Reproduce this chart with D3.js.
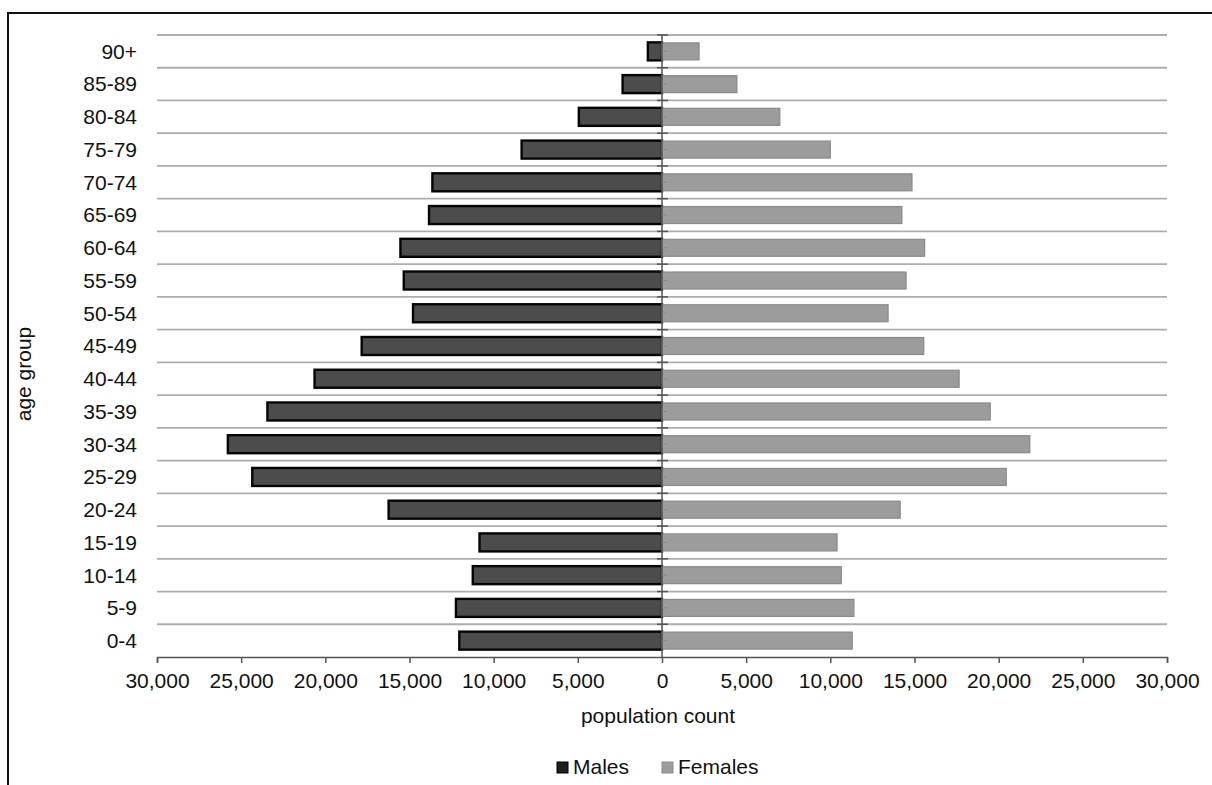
<!DOCTYPE html>
<html>
<head>
<meta charset="utf-8">
<script src="https://cdn.jsdelivr.net/npm/d3@7"></script>
<style>
  html, body { margin: 0; padding: 0; background: #fff; }
  svg { display: block; font-family: "Liberation Sans", Arial, sans-serif; }
</style>
</head>
<body>
<svg id="chart" width="1212" height="785"></svg>
<script>
const ageGroups = ["0-4","5-9","10-14","15-19","20-24","25-29","30-34","35-39","40-44","45-49","50-54","55-59","60-64","65-69","70-74","75-79","80-84","85-89","90+"];
const males   = [12100,12300,11300,10900,16300,24400,25850,23500,20700,17900,14850,15400,15600,13900,13700,8400,5000,2400,900];
const females = [11300,11400,10650,10400,14150,20450,21850,19500,17650,15550,13430,14500,15600,14250,14850,10000,7000,4450,2200];
const xTicks  = [-30000,-25000,-20000,-15000,-10000,-5000,0,5000,10000,15000,20000,25000,30000];
const seriesNames = ["Males","Females"];

const FS = 21;
const svg = d3.select("#chart");

// outer frame (extends past the picture on right and bottom)
svg.append("path")
  .attr("d", "M8,785 L8,13 L1212,13")
  .attr("fill", "none").attr("stroke", "#111").attr("stroke-width", 2);

const x = d3.scaleLinear().domain([-30000, 30000]).range([157, 1167]);
const y = d3.scaleBand().domain(ageGroups.slice().reverse()).range([35, 657]).paddingInner(0.45).paddingOuter(0.225);

const data = ageGroups.map((g, i) => ({ g, m: males[i], f: females[i] }));

// gridlines at band boundaries
const step = y.step();
const boundaries = d3.range(ageGroups.length).map(i => 35 + i * step);
svg.append("g").selectAll("line").data(boundaries).join("line")
  .attr("x1", x(-30000)).attr("x2", x(30000))
  .attr("y1", d => d).attr("y2", d => d)
  .attr("stroke", "#adadad").attr("stroke-width", 1.8);

// male bars
svg.append("g").selectAll("rect").data(data).join("rect")
  .attr("x", d => x(-d.m) + 1).attr("width", d => x(0) - x(-d.m) - 1)
  .attr("y", d => y(d.g)).attr("height", y.bandwidth())
  .attr("fill", "#4c4c4c").attr("stroke", "#050505").attr("stroke-width", 2.4);

// female bars
svg.append("g").selectAll("rect").data(data).join("rect")
  .attr("x", x(0)).attr("width", d => x(d.f) - x(0))
  .attr("y", d => y(d.g) + 0.5).attr("height", y.bandwidth() - 1)
  .attr("fill", "#9c9c9c").attr("stroke", "#8a8a8a").attr("stroke-width", 1.2);

// central vertical axis with ticks
const mid = svg.append("g");
mid.append("line").attr("x1", x(0)).attr("x2", x(0)).attr("y1", 35).attr("y2", 657)
  .attr("stroke", "#555").attr("stroke-width", 1.5);
mid.selectAll("line.bt").data(boundaries).join("line").attr("class", "bt")
  .attr("x1", x(0) - 5).attr("x2", x(0) + 6).attr("y1", d => d).attr("y2", d => d)
  .attr("stroke", "#555").attr("stroke-width", 1.5);
mid.selectAll("line.ct").data(data).join("line").attr("class", "ct")
  .attr("x1", x(0)).attr("x2", x(0) + 5)
  .attr("y1", d => y(d.g) + y.bandwidth() / 2).attr("y2", d => y(d.g) + y.bandwidth() / 2)
  .attr("stroke", "#888").attr("stroke-width", 1);

// x axis
const xAxis = d3.axisBottom(x).tickValues(xTicks).tickSize(6).tickPadding(10)
  .tickFormat(d => d3.format(",")(Math.abs(d)));
const gx = svg.append("g").attr("transform", "translate(0,657)").call(xAxis);
gx.select(".domain").attr("stroke", "#555").attr("stroke-width", 1.5);
gx.selectAll(".tick line").attr("stroke", "#555").attr("stroke-width", 1.5);
gx.selectAll(".tick text").attr("font-size", FS).attr("fill", "#111")
  .attr("font-family", "Liberation Sans, Arial, sans-serif");

// y labels
svg.append("g").selectAll("text").data(data).join("text")
  .attr("x", 137).attr("y", d => y(d.g) + y.bandwidth() / 2)
  .attr("dy", "0.35em").attr("text-anchor", "end")
  .attr("font-size", FS).attr("fill", "#111").text(d => d.g);

// axis titles
svg.append("text").attr("x", 658).attr("y", 723).attr("text-anchor", "middle")
  .attr("font-size", FS).attr("fill", "#111").text("population count");
svg.append("text").attr("transform", "translate(31,374) rotate(-90)").attr("text-anchor", "middle")
  .attr("font-size", FS).attr("fill", "#111").text("age group");

// legend
const legend = svg.append("g");
const legendItems = [
  { name: seriesNames[0], sx: 557, fill: "#1e1e1e", stroke: "#000" },
  { name: seriesNames[1], sx: 662, fill: "#9c9c9c", stroke: "#8c8c8c" }
];
legendItems.forEach(it => {
  legend.append("rect").attr("x", it.sx).attr("y", 762).attr("width", 11).attr("height", 11)
    .attr("fill", it.fill).attr("stroke", it.stroke).attr("stroke-width", 1);
  legend.append("text").attr("x", it.sx + 16).attr("y", 774)
    .attr("font-size", FS).attr("fill", "#111").text(it.name);
});
</script>
</body>
</html>
